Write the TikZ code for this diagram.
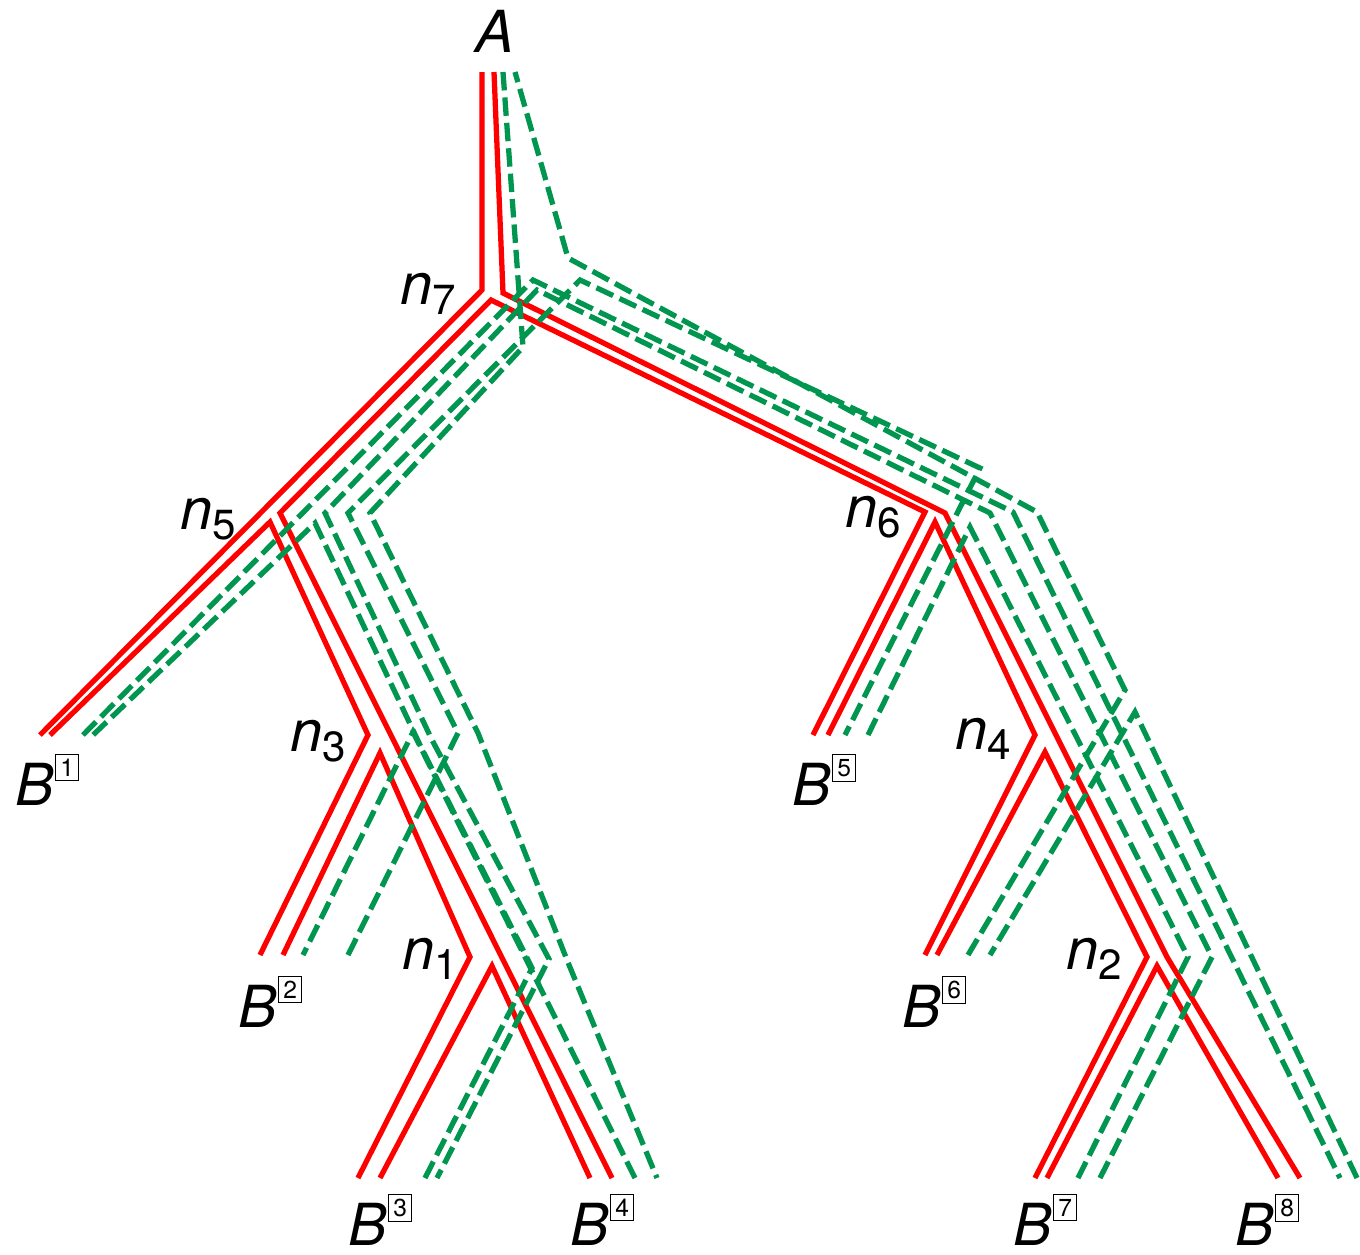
\documentclass[tikz,border=0pt]{standalone}
\usepackage{fontspec}
\setmainfont{TeX Gyre Heros}
\usetikzlibrary{positioning}

\definecolor{ringred}{RGB}{255,0,0}
\definecolor{ringgreen}{RGB}{0,150,80}

\newcommand{\leafbox}[1]{\raisebox{16.4pt}{\fontsize{14}{14}\selectfont\setlength{\fboxsep}{2.3pt}\setlength{\fboxrule}{0.5pt}\fbox{#1}}}
\newcommand{\leafname}[1]{\textit{B}\kern1pt\leafbox{#1}}
\newcommand{\innername}[1]{\textit{n}\raisebox{-5.7pt}{\fontsize{24}{24}\selectfont #1}}

\begin{document}
\begin{tikzpicture}[x=0.02cm, y=-0.02cm,
    ring/.style={line width=3pt, line join=miter, miter limit=20},
    redring/.style={ring, draw=ringred},
    greenring/.style={ring, draw=ringgreen, dash pattern=on 10.5pt off 4pt},
    nlabel/.style={font=\fontsize{33}{38}\selectfont, inner sep=0pt, outer sep=0pt, anchor=base west}
]
    \useasboundingbox (0,0) rectangle (1360,1255);

    % labels
    \node[nlabel] (lA) at (475,52) {\textit{A}};
    \node[nlabel] (ln7) at (400,304) {\innername{7}};
    \node[nlabel] (ln5) at (180,529) {\innername{5}};
    \node[nlabel] (ln3) at (290,751) {\innername{3}};
    \node[nlabel] (ln1) at (402,969) {\innername{1}};
    \node[nlabel] (ln6) at (845,527) {\innername{6}};
    \node[nlabel] (ln4) at (955,749) {\innername{4}};
    \node[nlabel] (ln2) at (1066,969) {\innername{2}};
    \node[nlabel] (lB1) at (15,805) {\leafname{1}};
    \node[nlabel] (lB2) at (238,1027) {\leafname{2}};
    \node[nlabel] (lB3) at (348,1245) {\leafname{3}};
    \node[nlabel] (lB4) at (570,1245) {\leafname{4}};
    \node[nlabel] (lB5) at (792,805) {\leafname{5}};
    \node[nlabel] (lB6) at (902,1027) {\leafname{6}};
    \node[nlabel] (lB7) at (1013,1245) {\leafname{7}};
    \node[nlabel] (lB8) at (1235,1245) {\leafname{8}};

    % red ring: A, B1, B2, ..., B8, A
    \draw[redring] (482,72) -- (482,290) -- (40,735);
    \draw[redring] (50,735) -- (270,522) -- (368,735) -- (260,955);
    \draw[redring] (283,955) -- (380,753) -- (470,957) -- (358,1178);
    \draw[redring] (380,1178) -- (492,966) -- (590,1178);
    \draw[redring] (612,1178) -- (280,513) -- (491,300) -- (925,512) -- (813,735);
    \draw[redring] (828,735) -- (935,522) -- (1035,735) -- (925,955);
    \draw[redring] (937,955) -- (1045,752) -- (1147,957) -- (1035,1178);
    \draw[redring] (1047,1178) -- (1157,966) -- (1278,1178);
    \draw[redring] (1300,1178) -- (1167,957) -- (945,513) -- (503,293) -- (494,72);

    % green ring: A, B4, B2, B5, B7, B3, B1, B8, B6, A
    \draw[greenring] (503,72) -- (523,347) -- (370,513) -- (478,733) -- (567,960) -- (657,1178);
    \draw[greenring] (635,1178) -- (413,732) -- (303,955);
    \draw[greenring] (348,955) -- (458,733) -- (348,513) -- (580,280) -- (980,468) -- (845,735);
    \draw[greenring] (868,735) -- (970,527) -- (1188,957) -- (1078,1178);
    \draw[greenring] (1100,1178) -- (1212,957) -- (990,513) -- (537,290) -- (325,513) -- (432,740) -- (549,959) -- (437,1178);
    \draw[greenring] (425,1178) -- (532,968) -- (420,745) -- (315,523) -- (93,735);
    \draw[greenring] (83,735) -- (533,280) -- (1013,512) -- (1340,1178);
    \draw[greenring] (1357,1178) -- (1135,712) -- (990,955);
    \draw[greenring] (968,955) -- (1125,690) -- (1037,512) -- (568,258) -- (515,72);
\end{tikzpicture}
\end{document}
